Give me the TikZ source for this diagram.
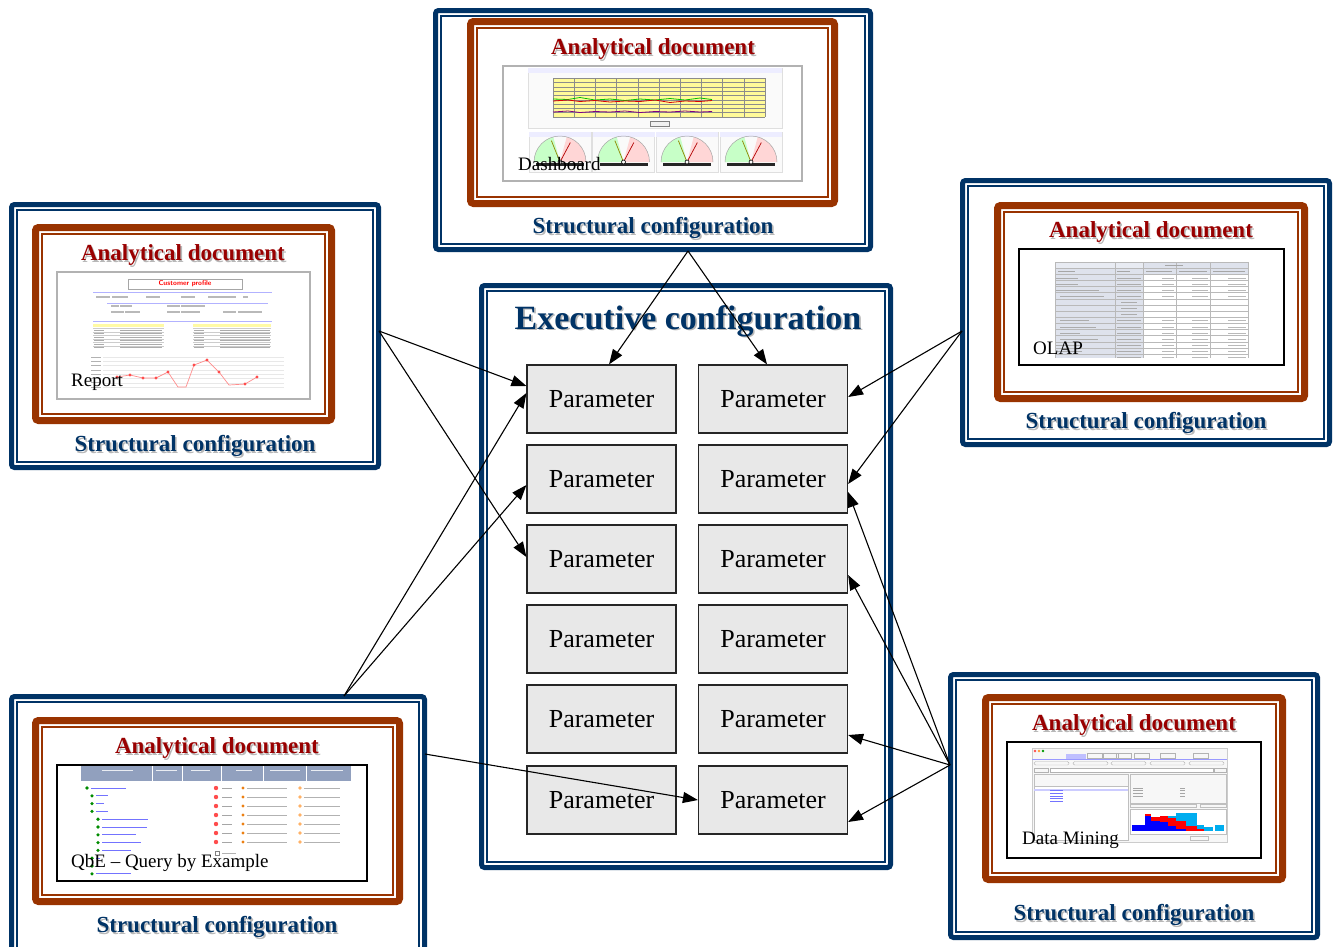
\documentclass[tikz,border=0pt]{standalone}
\usepackage{fontspec}
\setmainfont{Liberation Serif}
\usetikzlibrary{arrows.meta,calc}
\definecolor{navyc}{RGB}{0,51,102}
\definecolor{brownc}{RGB}{153,51,0}
\definecolor{titlered}{RGB}{153,0,0}
\definecolor{paramfill}{RGB}{232,232,232}
\definecolor{qbehdr}{RGB}{145,160,190}
\definecolor{olapcell}{RGB}{222,226,236}
\newcommand\myBlueFrame[4]{%
 \draw[navyc,line width=5pt,rounded corners=3pt] ({#1+2.5},{#2+2.5}) rectangle ({#3-2.5},{#4-2.5});
 \draw[navyc,line width=1.6pt] ({#1+8},{#2+8}) rectangle ({#3-8},{#4-8});}
\newcommand\myBrownFrame[4]{%
 \draw[brownc,line width=7pt,rounded corners=3pt] ({#1+3.5},{#2+3.5}) rectangle ({#3-3.5},{#4-3.5});
 \draw[brownc,line width=1.6pt] ({#1+10},{#2+10}) rectangle ({#3-10},{#4-10});}
\newcommand\myShadowNode[4]{%
 \node[#1,text=black!28] (#2-sh) at ([xshift=1.6pt,yshift=-1.6pt]#3) {#4};
 \node[#1] (#2) at (#3) {#4};}
\newcommand\myGauge[1]{%
 \draw[gray!25,fill=gray!4] ({#1-31},132) rectangle ({#1+31},172);
 \fill[blue!7] ({#1-31},132) rectangle ({#1+31},137);
 \fill[green!22] (#1,162) -- +(180:26pt) arc[start angle=180,end angle=105,radius=26pt] -- cycle;
 \fill[red!16] (#1,162) -- +(0:26pt) arc[start angle=0,end angle=75,radius=26pt] -- cycle;
 \draw[gray!70,line width=0.5pt] ([xshift=-26pt]#1,162) arc[start angle=180,end angle=0,radius=26pt];
 \fill[black!85] ({#1-24},163) rectangle ({#1+24},166);
 \draw[olive,line width=0.7pt] (#1,162) -- +(112:23pt);
 \draw[red!70!black,line width=0.7pt] (#1,162) -- +(62:22pt);
 \draw[black,line width=0.6pt,fill=white] (#1,162) circle[radius=2pt];}
\tikzset{
 param/.style={draw=black!85,fill=paramfill,line width=1.2pt,minimum width=149pt,minimum height=68pt,inner sep=0pt,font=\fontsize{26}{26}\selectfont},
 adtitle/.style={font=\fontsize{23}{23}\selectfont\bfseries,text=titlered,inner sep=0pt},
 sctitle/.style={font=\fontsize{23}{23}\selectfont\bfseries,text=navyc,inner sep=0pt},
 extitle/.style={font=\fontsize{34}{34}\selectfont\bfseries,text=navyc,inner sep=0pt},
 lbl/.style={font=\fontsize{19}{19}\selectfont,text=black,inner sep=0pt,anchor=west},
 conn/.style={-{Triangle[length=15pt,width=11pt]},line width=1.1pt,black},
 txtbar/.style={line width=1.3pt,gray!55},
}
\begin{document}
\begin{tikzpicture}[x=1pt,y=-1pt]
\useasboundingbox (0,0) rectangle (1337,946);
\fill[white] (0,0) rectangle (1337,946);

% ================= frames =================
\myBlueFrame{433}{8}{873}{252}
\myBrownFrame{467}{18}{838}{207}
\myBlueFrame{9}{202}{381}{470}
\myBrownFrame{32}{224}{335}{424}
\myBlueFrame{960}{178}{1332}{447}
\myBrownFrame{994}{202}{1308}{402}
\myBlueFrame{9}{694}{427}{958}
\myBrownFrame{32}{717}{403}{905}
\myBlueFrame{948}{672}{1320}{940}
\myBrownFrame{982}{694}{1286}{883}
\myBlueFrame{479}{283}{893}{870}

% ================= Dashboard screenshot =================
\draw[gray!60,line width=1.5pt,fill=white] (503,66) rectangle (802,181);
\draw[gray!25,fill=gray!4] (528,68) rectangle (782,128);
\fill[blue!7] (528,68) rectangle (782,73);
\fill[yellow!40] (553,78) rectangle (765,117);
\foreach \i in {0,...,10} \draw[black!45,line width=0.3pt] ({553+\i*21.2},78) -- ({553+\i*21.2},117);
\foreach \j in {0,...,9} \draw[black!45,line width=0.3pt] (553,{78+\j*4.33}) -- (765,{78+\j*4.33});
\draw[green!75!black,line width=0.8pt] plot coordinates {(553,99) (568,99.5) (580,97.5) (595,100) (610,99) (625,100.5) (640,99) (655,100) (670,98.5) (685,100) (700,98) (712,99.5)};
\draw[red!85!black,line width=0.8pt] plot coordinates {(553,101) (568,100) (580,101.5) (595,100.5) (610,102) (625,101) (640,101.5) (655,100) (670,102.5) (685,101) (700,101.5) (712,100.5)};
\draw[violet,line width=0.8pt] plot coordinates {(553,112) (568,111) (580,112.5) (595,111.5) (610,112) (625,111) (640,112.5) (655,111.5) (670,112) (685,111) (700,112) (712,111.5)};
\draw[gray,fill=gray!12,line width=0.4pt] (650,121) rectangle (669,126);
\myGauge{560}
\myGauge{623.5}
\myGauge{687}
\myGauge{751}

% ================= Report screenshot =================
\draw[gray!60,line width=1.5pt,fill=white] (57,272) rectangle (310,399);
\draw[gray!70,line width=0.6pt] (128,279) rectangle (242,289);
\node[font=\fontsize{7}{7}\selectfont\bfseries\sffamily,text=red,inner sep=0pt] (cpTitle) at (185,284) {Customer profile};
\draw[blue!30,line width=0.6pt] (93,292.5) -- (272,292.5);
\draw[blue!30,line width=0.6pt] (107,303) -- (268,303);
\draw[blue!30,line width=0.6pt] (93,321) -- (272,321);
\foreach \xa/\xb in {96/110,112/128,146/160,181/195,208/236,243/248} \draw[txtbar] (\xa,297) -- (\xb,297);
\foreach \xa/\xb in {111/119,120/132,167/180,181/205} \draw[txtbar] (\xa,306) -- (\xb,306);
\foreach \xa/\xb in {111/124,125/140,167/180,181/200,223/236,238/262} \draw[txtbar] (\xa,312) -- (\xb,312);
\fill[yellow!35] (93,323.5) rectangle (164,327);
\fill[yellow!35] (193,323.5) rectangle (271,327);
\foreach \k in {0,...,5} {
  \draw[gray!40,line width=0.3pt] (93,{328.5+\k*3.5}) -- (164,{328.5+\k*3.5});
  \draw[gray!40,line width=0.3pt] (193,{328.5+\k*3.5}) -- (271,{328.5+\k*3.5});
  \draw[gray!65,line width=1pt] (94,{330+\k*3.5}) -- (104,{330+\k*3.5});
  \draw[gray!65,line width=1pt] (120,{330+\k*3.5}) -- (162,{330+\k*3.5});
  \draw[gray!65,line width=1pt] (194,{330+\k*3.5}) -- (204,{330+\k*3.5});
  \draw[gray!65,line width=1pt] (220,{330+\k*3.5}) -- (270,{330+\k*3.5});
}
\foreach \k in {0,...,7} \draw[gray!18,line width=0.4pt] (103,{357+\k*4.3}) -- (284,{357+\k*4.3});
\foreach \k in {0,...,7} \draw[gray!60,line width=0.8pt] (91,{357+\k*4.3}) -- (101,{357+\k*4.3});
\draw[red!45,line width=0.7pt] plot coordinates {(117,377) (130,375) (143,378) (156,378) (168,372) (178,387) (186,387) (194,365) (207,360) (219,372) (229,385) (245,384) (257,377)};
\foreach \p in {(117,377),(130,375),(143,378),(156,378),(168,372),(194,365),(207,360),(219,372),(245,384),(257,377)} \fill[red!70] \p circle[radius=1.6pt];

% ================= OLAP screenshot =================
\draw[black,line width=1.5pt,fill=white] (1019,249) rectangle (1284,365);
\fill[olapcell] (1055,262) rectangle (1143,358);
\fill[olapcell] (1143,262) rectangle (1248,275);
\fill[olapcell!70] (1055,262) rectangle (1143,268);
\foreach \k in {0,...,15} \draw[gray!55,line width=0.35pt] (1055,{262+\k*6.13}) -- (1248,{262+\k*6.13});
\foreach \xx in {1055,1115,1143,1176,1210,1248} \draw[gray!55,line width=0.35pt] (\xx,262) -- (\xx,358);
\draw[gray!70,line width=0.9pt] (1165,265) -- (1183,265);
\foreach \xa/\xb in {1058/1075,1117/1130,1146/1172,1179/1207,1213/1245} \draw[gray!70,line width=1pt] (\xa,271.5) -- (\xb,271.5);
\foreach \k/\a/\b in {0/1056/1078,1/1056/1078,2/1056/1099,3/1060/1104,7/1060/1089,8/1060/1096,9/1060/1080,10/1060/1098,11/1056/1080,12/1056/1082} \draw[gray!65,line width=1pt] (\a,{278+\k*6.13}) -- (\b,{278+\k*6.13});
\foreach \k in {0,1,2,3,7,8,9,10,11,12,13} {
  \draw[gray!65,line width=1pt] (1117,{278+\k*6.13}) -- (1141,{278+\k*6.13});
  \draw[gray!55,line width=1pt] (1162,{278+\k*6.13}) -- (1174,{278+\k*6.13});
  \draw[gray!55,line width=1pt] (1192,{278+\k*6.13}) -- (1208,{278+\k*6.13});
  \draw[gray!55,line width=1pt] (1228,{278+\k*6.13}) -- (1246,{278+\k*6.13});
}
\foreach \k in {4,5,6} \draw[gray!65,line width=1pt] (1121,{278+\k*6.13}) -- (1137,{278+\k*6.13});

% ================= QbE screenshot =================
\draw[black,line width=1.5pt,fill=white] (57,765) rectangle (367,881);
\fill[qbehdr] (81,766) rectangle (351,781);
\foreach \xx in {152,182,221,263,306} \draw[white,line width=0.6pt] (\xx,766) -- (\xx,781);
\foreach \xa/\xb in {102/133,156/177,191/210,236/252,270/300,311/343} \draw[white!80!qbehdr,line width=1pt] (\xa,770) -- (\xb,770);
\foreach \k/\a/\b in {0/87/126,1/92/108,2/92/104,3/92/108,4/98/148,5/98/147,6/98/136,7/98/141,8/98/131,9/92/100,10/92/100,11/92/131} {
  \fill[green!55!black] (\a,{788+\k*7.8}) circle[radius=1.8pt];
  \draw[blue!55,line width=1pt] ({\a+4},{788+\k*7.8}) -- (\b,{788+\k*7.8});
}
\foreach \k in {0,...,6} {
  \fill[red!70] (216,{788+\k*9}) circle[radius=2.2pt];
  \draw[gray!70,line width=1pt] (222,{788+\k*9}) -- (232,{788+\k*9});
  \fill[orange!70!brown] (243,{788+\k*9}) circle[radius=1.6pt];
  \draw[gray!60,line width=1pt] (247,{788+\k*9}) -- (287,{788+\k*9});
  \fill[orange!60] (300,{788+\k*9}) circle[radius=1.8pt];
  \draw[gray!60,line width=1pt] (304,{788+\k*9}) -- (340,{788+\k*9});
}
\draw[gray,line width=0.4pt] (215,851) rectangle (219,855);
\draw[gray!60,line width=1pt] (222,853) -- (236,853);

% ================= Data Mining screenshot =================
\draw[black,line width=1.5pt,fill=white] (1007,742) rectangle (1261,858);
\draw[gray!40,fill=gray!6,line width=0.4pt] (1032,748) rectangle (1227,842);
\fill[red!70] (1035,751) circle[radius=1.3pt];
\fill[orange!80] (1039,751) circle[radius=1.3pt];
\fill[green!60!black] (1043,751) circle[radius=1.3pt];
\fill[blue!25] (1066,753.5) rectangle (1086,758.5);
\foreach \xa in {1087,1103,1116,1134,1160,1193} \draw[gray!60,line width=0.4pt] (\xa,753.5) rectangle ({\xa+15},758.5);
\draw[blue!40,line width=0.6pt] (1032,759) -- (1227,759);
\foreach \xa in {1034,1073,1111,1150,1189} \draw[gray!60,line width=0.4pt,rounded corners=1.5pt] (\xa,761.5) rectangle ({\xa+35},765);
\draw[gray!60,line width=0.4pt,fill=white] (1050,768.5) rectangle (1213,772);
\draw[gray!60,line width=0.4pt] (1034,768.5) rectangle (1048,772);
\draw[gray!60,line width=0.4pt] (1214,768.5) rectangle (1226,772);
\draw[gray!50,line width=0.4pt] (1034,774) rectangle (1128,786);
\draw[gray!50,line width=0.4pt,fill=white] (1034,786) rectangle (1128,840);
\draw[blue!20,line width=2pt] (1034,790) -- (1128,790);
\foreach \k in {0,...,4} \draw[blue!55,line width=0.8pt] (1050,{790.5+\k*2.7}) -- (1063,{790.5+\k*2.7});
\draw[gray!50,line width=0.4pt] (1130,774) rectangle (1226,803);
\foreach \k in {0,...,3} {\draw[gray!70,line width=0.8pt] (1133,{788+\k*2.7}) -- (1143,{788+\k*2.7}); \draw[gray!70,line width=0.8pt] (1180,{788+\k*2.7}) -- (1185,{788+\k*2.7});}
\draw[gray!50,line width=0.4pt] (1130,804) rectangle (1196,807.5);
\draw[gray!50,line width=0.4pt] (1200,804) rectangle (1226,807.5);
\draw[gray!50,line width=0.4pt,fill=white] (1130,809) rectangle (1226,834);
\fill[blue] (1132,825) rectangle (1145,831);
\fill[blue] (1145,816) rectangle (1151,831); \fill[red] (1145,814) rectangle (1151,816);
\fill[blue] (1151,821) rectangle (1160,831); \fill[red] (1151,817) rectangle (1160,821);
\fill[blue] (1160,822) rectangle (1168,831); \fill[red] (1160,816) rectangle (1168,822);
\fill[blue] (1168,826) rectangle (1176,831); \fill[red] (1168,818) rectangle (1176,826); \fill[cyan] (1168,816) rectangle (1176,818);
\fill[blue] (1176,829) rectangle (1186,831); \fill[red] (1176,821) rectangle (1186,829); \fill[cyan] (1176,813) rectangle (1186,821);
\fill[red] (1186,826) rectangle (1197,831); \fill[cyan] (1186,813) rectangle (1197,826);
\fill[red] (1197,829) rectangle (1204,831); \fill[cyan] (1197,825) rectangle (1204,829);
\fill[cyan] (1204,827) rectangle (1213,831);
\fill[cyan] (1215,825) rectangle (1224,831);
\draw[gray!50,line width=0.4pt] (1190,836) rectangle (1208,840);

% ================= titles =================
\myShadowNode{adtitle}{adTop}{653,49}{Analytical document}
\myShadowNode{sctitle}{scTop}{653,228}{Structural configuration}
\myShadowNode{adtitle}{adRep}{183,255}{Analytical document}
\myShadowNode{sctitle}{scRep}{195,446}{Structural configuration}
\myShadowNode{adtitle}{adOlap}{1151,232}{Analytical document}
\myShadowNode{sctitle}{scOlap}{1146,423}{Structural configuration}
\myShadowNode{adtitle}{adQbe}{217,748}{Analytical document}
\myShadowNode{sctitle}{scQbe}{217,927}{Structural configuration}
\myShadowNode{adtitle}{adDm}{1134,725}{Analytical document}
\myShadowNode{sctitle}{scDm}{1134,915}{Structural configuration}
\myShadowNode{extitle}{exTitle}{688,321}{Executive configuration}

% ================= labels =================
\node[lbl] (lbDash) at (518,164) {Dashboard};
\node[lbl] (lbRep) at (71,382) {Report};
\node[lbl] (lbOlap) at (1033,348) {OLAP};
\node[lbl] (lbQbe) at (71,863) {QbE – Query by Example};
\node[lbl] (lbDm) at (1022,840) {Data Mining};

% ================= parameters =================
\node[param] (L1) at (601.5,399) {Parameter};
\node[param] (L2) at (601.5,479) {Parameter};
\node[param] (L3) at (601.5,559) {Parameter};
\node[param] (L4) at (601.5,639) {Parameter};
\node[param] (L5) at (601.5,719) {Parameter};
\node[param] (L6) at (601.5,800) {Parameter};
\node[param] (R1) at (773,399) {Parameter};
\node[param] (R2) at (773,479) {Parameter};
\node[param] (R3) at (773,559) {Parameter};
\node[param] (R4) at (773,639) {Parameter};
\node[param] (R5) at (773,719) {Parameter};
\node[param] (R6) at (773,800) {Parameter};

% ================= connectors =================
\coordinate (sTop) at (688,251);
\coordinate (sRep) at (379,331);
\coordinate (sOlap) at (962,331);
\coordinate (sQbe) at (344,696);
\coordinate (sQbeR) at (425,754);
\coordinate (sDm) at (950,765);
\draw[conn] (sTop) -- ([xshift=7.5pt]L1.north);
\draw[conn] (sTop) -- ([xshift=-6pt]R1.north);
\draw[conn] (sRep) -- ([yshift=13pt]L1.west);
\draw[conn] (sRep) -- ([yshift=2pt]L3.west);
\draw[conn] (sQbe) -- ([yshift=6pt]L1.west);
\draw[conn] (sQbe) -- ([yshift=-6pt]L2.west);
\draw[conn] (sQbeR) -- (R6.west);
\draw[conn] (sOlap) -- ([yshift=2pt]R1.east);
\draw[conn] (sOlap) -- ([yshift=-5pt]R2.east);
\draw[conn] (sDm) -- ([yshift=-13pt]R2.east);
\draw[conn] (sDm) -- ([yshift=-16pt]R3.east);
\draw[conn] (sDm) -- ([yshift=-16pt]R5.east);
\draw[conn] (sDm) -- ([yshift=-22pt]R6.east);
\end{tikzpicture}
\end{document}
